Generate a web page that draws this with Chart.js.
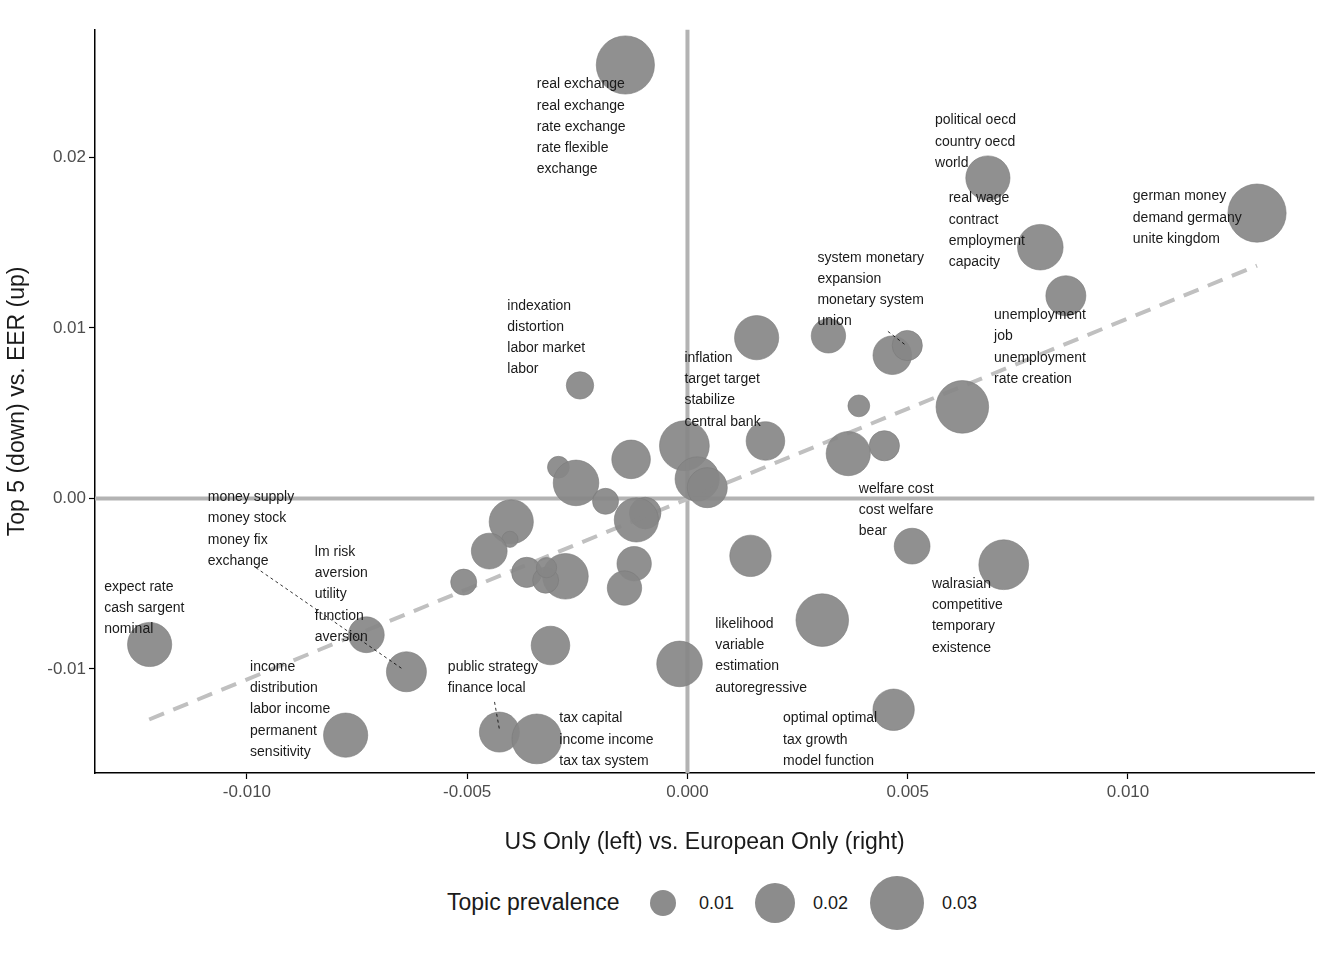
<!DOCTYPE html>
<html><head><meta charset="utf-8">
<script src="https://cdn.jsdelivr.net/npm/chart.js@4/dist/chart.umd.min.js"></script>
<style>
body{margin:0;background:#fff;font-family:"Liberation Sans",Arial,sans-serif;}
#wrap{position:relative;width:1344px;height:860px;}
#legend{position:absolute;left:0;top:860px;width:1344px;height:100px;}
#legend .t{position:absolute;left:447px;top:890px;font-size:23px;color:#1a1a1a;}
.lg{position:absolute;border-radius:50%;background:#8c8c8c;}
.lt{position:absolute;font-size:18px;color:#1a1a1a;}
</style></head>
<body>
<div id="wrap"><canvas id="c"></canvas></div>
<div style="position:absolute;left:447px;top:889px;font-size:23px;color:#1a1a1a">Topic prevalence</div>
<div class="lg" style="left:650px;top:890px;width:26px;height:26px"></div>
<div class="lt" style="left:699px;top:893px">0.01</div>
<div class="lg" style="left:755px;top:883px;width:40px;height:40px"></div>
<div class="lt" style="left:813px;top:893px">0.02</div>
<div class="lg" style="left:870px;top:876px;width:54px;height:54px"></div>
<div class="lt" style="left:942px;top:893px">0.03</div>
<script>
"use strict";

// topic positions: x = US vs European, y = top5 vs EER, p = prevalence
const topicX = [-0.00141,0.00682,0.01293,0.00801,0.00859,0.00157,0.00320,0.00465,0.00499,-0.00244,
  0.00389,0.00624,-0.00007,0.00177,0.00365,0.00447,-0.00128,-0.00293,-0.00253,0.00022,
  0.00045,-0.00186,-0.00096,-0.00116,-0.00400,-0.00403,-0.00450,0.00510,0.00718,0.00143,
  -0.00121,-0.00365,-0.00277,-0.00322,-0.00320,-0.00508,-0.00143,0.00306,-0.01221,-0.00729,
  -0.00311,-0.00638,-0.00018,0.00468,-0.00776,-0.00427,-0.00342];
const topicY = [0.02543,0.01880,0.01674,0.01474,0.01189,0.00943,0.00954,0.00840,0.00897,0.00663,
  0.00543,0.00537,0.00309,0.00337,0.00263,0.00309,0.00229,0.00183,0.00091,0.00114,
  0.00063,-0.00017,-0.00086,-0.00126,-0.00137,-0.00240,-0.00309,-0.00280,-0.00389,-0.00337,
  -0.00383,-0.00434,-0.00457,-0.00480,-0.00406,-0.00491,-0.00526,-0.00714,-0.00857,-0.00800,
  -0.00863,-0.01017,-0.00971,-0.01240,-0.01389,-0.01371,-0.01411];
const topicP = [0.033,0.023,0.033,0.024,0.020,0.023,0.016,0.019,0.013,0.011,
  0.007,0.029,0.027,0.019,0.023,0.013,0.019,0.007,0.024,0.023,
  0.020,0.010,0.014,0.023,0.023,0.003,0.017,0.017,0.027,0.021,
  0.016,0.013,0.024,0.010,0.006,0.010,0.016,0.029,0.023,0.017,
  0.019,0.020,0.024,0.021,0.023,0.020,0.027];

const fitX = [-0.01222, 0.01293];
const fitY = [-0.01297, 0.01366];

const labelText = [
  "real exchange|real exchange|rate exchange|rate flexible|exchange",
  "political oecd|country oecd|world",
  "german money|demand germany|unite kingdom",
  "real wage|contract|employment|capacity",
  "system monetary|expansion|monetary system|union",
  "unemployment|job|unemployment|rate creation",
  "indexation|distortion|labor market|labor",
  "inflation|target target|stabilize|central bank",
  "welfare cost|cost welfare|bear",
  "money supply|money stock|money fix|exchange",
  "lm risk|aversion|utility|function|aversion",
  "expect rate|cash sargent|nominal",
  "walrasian|competitive|temporary|existence",
  "likelihood|variable|estimation|autoregressive",
  "income|distribution|labor income|permanent|sensitivity",
  "public strategy|finance local",
  "tax capital|income income|tax tax system",
  "optimal optimal|tax growth|model function",
];
const labelX = [-0.00342,0.00562,0.01011,0.00593,0.00295,0.00696,-0.00409,-0.00007,0.00389,
  -0.01089,-0.00846,-0.01324,0.00555,0.00063,-0.00993,-0.00544,-0.00291,0.00217];
const labelY = [0.02429,0.02217,0.01771,0.01760,0.01411,0.01074,0.01131,0.00823,0.00057,
  0.00006,-0.00314,-0.00520,-0.00503,-0.00737,-0.00989,-0.00989,-0.01291,-0.01291];
const lineStep = 0.001246;

// connector segments [x1, y1, x2, y2]
const links = [
  [-0.00980,-0.00406,-0.00644,-0.01006],
  [-0.00438,-0.01194,-0.00427,-0.01354],
  [0.00455,0.00980,0.00495,0.00900],
];

const xTicks = [-0.01, -0.005, 0, 0.005, 0.01];
const yTicks = [-0.01, 0, 0.01, 0.02];

const radius = (p) => 6 + 700 * p;

const overlay = {
  id: "overlay",
  beforeDatasetsDraw(chart) {
    const { ctx, chartArea: a, scales: { x, y } } = chart;
    ctx.save();
    ctx.strokeStyle = "#b3b3b3";
    ctx.lineWidth = 4;
    ctx.beginPath();
    ctx.moveTo(x.getPixelForValue(0), a.top); ctx.lineTo(x.getPixelForValue(0), a.bottom);
    ctx.moveTo(a.left, y.getPixelForValue(0)); ctx.lineTo(a.right, y.getPixelForValue(0));
    ctx.stroke();
    ctx.restore();
  },
  afterDatasetsDraw(chart) {
    const { ctx, scales: { x, y } } = chart;
    ctx.save();
    ctx.strokeStyle = "#000";
    ctx.lineWidth = 0.8;
    ctx.setLineDash([3, 3]);
    links.forEach(([a, b, c, d]) => {
      ctx.beginPath();
      ctx.moveTo(x.getPixelForValue(a), y.getPixelForValue(b));
      ctx.lineTo(x.getPixelForValue(c), y.getPixelForValue(d));
      ctx.stroke();
    });
    ctx.setLineDash([]);
    ctx.fillStyle = "#1a1a1a";
    ctx.font = "14px 'Liberation Sans', Arial, sans-serif";
    ctx.textBaseline = "middle";
    labelText.forEach((t, i) => {
      t.split("|").forEach((line, j) => {
        ctx.fillText(line, x.getPixelForValue(labelX[i]), y.getPixelForValue(labelY[i] - j * lineStep));
      });
    });
    ctx.restore();
  },
};

const axisCommon = {
  grid: { drawOnChartArea: false, color: "#000", tickLength: 6, tickWidth: 1.2 },
  border: { display: true, color: "#000", width: 1.5 },
  ticks: { color: "#4d4d4d", font: { size: 17, family: "'Liberation Sans', Arial" } },
  title: { display: true, color: "#1a1a1a", font: { size: 23, family: "'Liberation Sans', Arial" } },
};

new Chart(document.getElementById("c"), {
  type: "bubble",
  data: {
    datasets: [
      { type: "line", data: fitX.map((v, i) => ({ x: v, y: fitY[i] })), borderColor: "#c0c0c0",
        borderWidth: 4, borderDash: [16, 10], pointRadius: 0, order: 2 },
      { data: topicX.map((v, i) => ({ x: v, y: topicY[i], r: radius(topicP[i]) })),
        backgroundColor: "rgba(135,135,135,0.92)", borderColor: "#7a7a7a", borderWidth: 0.6, order: 1 },
    ],
  },
  plugins: [overlay],
  options: {
    responsive: true, maintainAspectRatio: false, animation: false,
    layout: { padding: { top: 10, right: 12, left: 0, bottom: 0 } },
    plugins: { legend: { display: false }, tooltip: { enabled: false } },
    elements: { point: { hoverRadius: 0 } },
    scales: {
      x: Object.assign({}, axisCommon, {
        type: "linear", min: -0.01345, max: 0.01423,
        afterBuildTicks: (s) => { s.ticks = xTicks.map((v) => ({ value: v })); },
        afterFit: (s) => { s.height = 87; },
        ticks: Object.assign({}, axisCommon.ticks, { callback: (v) => v.toFixed(3) }),
        title: Object.assign({}, axisCommon.title, { text: "US Only (left) vs. European Only (right)", padding: { top: 2 } }),
      }),
      y: Object.assign({}, axisCommon, {
        type: "linear", min: -0.01611, max: 0.0275,
        afterBuildTicks: (s) => { s.ticks = yTicks.map((v) => ({ value: v })); },
        afterFit: (s) => { s.width = 95; },
        ticks: Object.assign({}, axisCommon.ticks, { callback: (v) => v.toFixed(2) }),
        title: Object.assign({}, axisCommon.title, { text: "Top 5 (down) vs. EER (up)" }),
      }),
    },
  },
});
</script>
</body></html>
